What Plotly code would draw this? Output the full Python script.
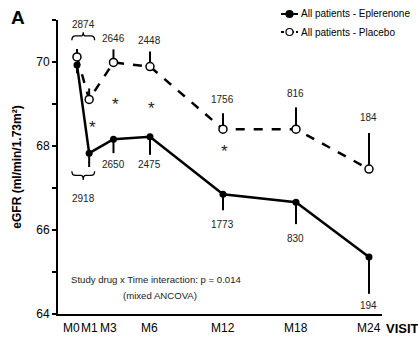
import plotly.graph_objects as go

# Visit schedule (months) and tick labels
months = [0, 1, 3, 6, 12, 18, 24]
visit_labels = ["M0", "M1", "M3", "M6", "M12", "M18", "M24"]

# Mean eGFR (ml/min/1.73m²) with one-sided error bars
eplerenone = [69.93, 67.83, 68.16, 68.22, 66.85, 66.66, 65.36]
eplerenone_err = [0.20, 0.33, 0.33, 0.43, 0.38, 0.52, 0.88]
placebo = [70.12, 69.11, 69.99, 69.89, 68.40, 68.40, 67.45]
placebo_err = [0.19, 0.26, 0.31, 0.36, 0.38, 0.52, 0.86]

# Patients at each visit (M0 and M1 share one bracketed count)
n_placebo = ["2874", "2646", "2448", "1756", "816", "184"]
n_eplerenone = ["2918", "2650", "2475", "1773", "830", "194"]

series_names = ["All patients - Eplerenone", "All patients - Placebo"]

FONT = "Liberation Sans, Arial, sans-serif"
ZERO = [0] * len(months)

# Plot-area geometry (pixels) used for paper-space decorations
W, H = 418, 342
ML, MR, MT, MB = 58, 36, 20, 28
PW, PH = W - ML - MR, H - MT - MB
def px(x):
    return (x - ML) / PW
def py(y):
    return (H - MB - y) / PH

fig = go.Figure()
fig.add_trace(go.Scatter(
    x=months, y=eplerenone, name=series_names[0],
    mode="lines+markers",
    line=dict(color="black", width=2.5),
    marker=dict(symbol="circle", size=7, color="black"),
    error_y=dict(type="data", symmetric=False, array=ZERO,
                 arrayminus=eplerenone_err, color="black", thickness=2, width=0),
))
fig.add_trace(go.Scatter(
    x=months, y=placebo, name=series_names[1],
    mode="lines+markers",
    line=dict(color="black", width=2.5, dash="dash"),
    marker=dict(symbol="circle", size=8, color="white",
                line=dict(color="black", width=1.5)),
    error_y=dict(type="data", symmetric=False, array=placebo_err,
                 arrayminus=ZERO, color="black", thickness=2, width=0),
))

ann = []
def label(x, y, text, size=10, **kw):
    ann.append(dict(x=x, y=y, xref="x", yref="y", text=text, showarrow=False,
                    font=dict(family=FONT, size=size, color="#222"), **kw))

# Placebo counts above, eplerenone counts below
brace_mid = (months[0] + months[1]) / 2
ann.append(dict(x=brace_mid, y=py(17), xref="x", yref="paper", text=n_placebo[0],
                showarrow=False, font=dict(family=FONT, size=10, color="#222")))
label(brace_mid, 66.76, n_eplerenone[0])
plac_y = [70.57, 70.52, 69.10, 69.24, 68.67]
epl_y = [67.57, 67.57, 66.12, 65.79, 64.21]
for m, t, y in zip(months[2:], n_placebo[1:], plac_y):
    label(m, y, t)
for m, t, y in zip(months[2:], n_eplerenone[1:], epl_y):
    label(m, y, t)

# Significance stars
star_pos = [(1.25, 68.45), (3.2, 68.98), (6.1, 68.9), (12.1, 67.86)]
for (sx, sy) in star_pos:
    label(sx, sy, "*", size=17)

label(6.5, 64.82, "Study drug x Time interaction: p = 0.014", size=9.6)
label(6.8, 64.45, "(mixed ANCOVA)", size=9.6)

# Visit labels along the x axis (M0 and M3 nudged left to clear neighbours)
nudge = {"M0": -5, "M3": -5}
for m, t in zip(months, visit_labels):
    ann.append(dict(x=m, y=0, xref="x", yref="paper", text=t, showarrow=False,
                    yanchor="top", yshift=-5, xshift=nudge.get(t, 0),
                    font=dict(family=FONT, size=12, color="black")))

# Panel letter, axis title
ann.append(dict(x=px(18), y=py(18), xref="paper", yref="paper", text="<b>A</b>",
                showarrow=False, xanchor="center", yanchor="middle",
                font=dict(family=FONT, size=19, color="black")))
ann.append(dict(x=px(382), y=0, xref="paper", yref="paper", text="<b>VISIT</b>",
                showarrow=False, xanchor="left", yanchor="top", yshift=-5,
                xshift=2, font=dict(family=FONT, size=13, color="black")))

# Curly braces grouping M0 and M1 counts
def brace(x0, x1, y_end, y_tip, y_neck):
    xm = (x0 + x1) / 2
    return (f"M {x0},{y_end} Q {x0},{y_neck} {x0 + 0.3},{y_neck} "
            f"L {xm - 0.2},{y_neck} Q {xm},{y_neck} {xm},{y_tip} "
            f"Q {xm},{y_neck} {xm + 0.2},{y_neck} "
            f"L {x1 - 0.3},{y_neck} Q {x1},{y_neck} {x1},{y_end}")

shapes = [
    dict(type="path", xref="x", yref="y",
         path=brace(months[0] - 0.42, months[1] + 0.45, 70.52, 70.71, 70.62),
         line=dict(color="black", width=1.3)),
    dict(type="path", xref="x", yref="y",
         path=brace(months[0] - 0.42, months[1] + 0.45, 67.40, 67.19, 67.30),
         line=dict(color="black", width=1.3)),
]

# Compact legend: short line sample with marker, then the series name
legend_rows = [(14, "solid", "black"), (32, "dash", "white")]
for (row_y, dash, fill), name in zip(legend_rows, series_names):
    shapes.append(dict(type="line", xref="paper", yref="paper",
                       x0=px(281), x1=px(298), y0=py(row_y), y1=py(row_y),
                       line=dict(color="black", width=2,
                                 dash="solid" if dash == "solid" else "3px,2px")))
    r = 3.5
    shapes.append(dict(type="circle", xref="paper", yref="paper",
                       xsizemode="pixel", ysizemode="pixel",
                       xanchor=px(289.5), yanchor=py(row_y),
                       x0=-r, x1=r, y0=-r, y1=r,
                       fillcolor=fill, line=dict(color="black", width=1.2)))
    ann.append(dict(x=px(299), y=py(row_y), xref="paper", yref="paper",
                    text=name, showarrow=False, xanchor="left", yanchor="middle",
                    font=dict(family=FONT, size=10, color="black")))

fig.update_layout(
    width=W, height=H,
    margin=dict(l=ML, r=MR, t=MT, b=MB),
    paper_bgcolor="white", plot_bgcolor="white",
    showlegend=False,
    annotations=ann, shapes=shapes,
    font=dict(family=FONT, color="black"),
    xaxis=dict(range=[-1.56, 25.07], tickvals=months, showticklabels=False,
               showgrid=False, zeroline=False, showline=True,
               linecolor="black", linewidth=2, ticks=""),
    yaxis=dict(range=[64, 71], tickvals=[64, 66, 68, 70],
               showgrid=False, zeroline=False, showline=True,
               linecolor="black", linewidth=2, ticks="outside",
               ticklen=4, tickwidth=1.5, tickcolor="black",
               minor=dict(dtick=1, ticks="outside", ticklen=4,
                          tickwidth=1.5, tickcolor="black"),
               title=dict(text="<b>eGFR (ml/min/1.73m²)</b>", standoff=12,
                          font=dict(family=FONT, size=12, color="black")),
               tickfont=dict(family=FONT, size=12, color="black")),
)

fig.write_html("out.html")
